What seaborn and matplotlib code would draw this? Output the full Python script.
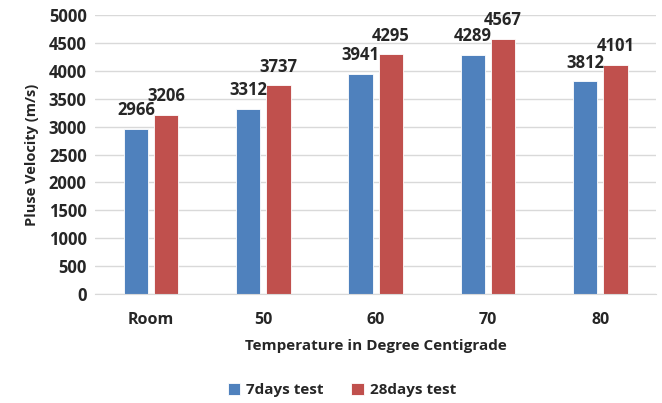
import matplotlib
matplotlib.use("Agg")
import matplotlib.pyplot as plt
import seaborn as sns
import pandas as pd

categories = ["Room", "50", "60", "70", "80"]
series_names = ["7days test", "28days test"]
days7 = [2966, 3312, 3941, 4289, 3812]
days28 = [3206, 3737, 4295, 4567, 4101]
colors = ["#4F81BD", "#C0504D"]

df = pd.DataFrame({
    "Temperature": categories * 2,
    "Velocity": days7 + days28,
    "Series": [series_names[0]] * len(categories) + [series_names[1]] * len(categories),
})

sns.set_style("white")
plt.rcParams["font.family"] = ["Open Sans", "DejaVu Sans"]
plt.rcParams["font.weight"] = "bold"

fig = plt.figure(figsize=(6.62, 4.03), dpi=100)
ax = fig.add_axes([0.1435, 0.27, 0.848, 0.693])

sns.barplot(data=df, x="Temperature", y="Velocity", hue="Series",
            palette=colors, saturation=1, width=0.54, gap=0.2, ax=ax, legend=True,
            edgecolor="white", linewidth=0.6)

# value labels sit a bit higher above the bars, like the Excel original
for cont in ax.containers:
    ax.bar_label(cont, fmt="%d", padding=7, fontsize=12, fontweight="bold")

ax.set_ylim(0, 5000)
ax.set_yticks(range(0, 5001, 500))
ax.yaxis.grid(True, color="#D9D9D9", linewidth=1)
ax.set_axisbelow(True)
for s in ["left", "right", "top"]:
    ax.spines[s].set_visible(False)
ax.spines["bottom"].set_color("#D9D9D9")
ax.tick_params(axis="both", length=0, labelsize=12, pad=6)
ax.tick_params(axis="x", labelsize=11.5, pad=13)
for lab in ax.get_xticklabels() + ax.get_yticklabels():
    lab.set_fontweight("bold")

ax.set_xlabel("Temperature in Degree Centigrade", fontsize=11, fontweight="bold", labelpad=8)
ax.set_ylabel("Pluse Velocity (m/s)", fontsize=10.5, fontweight="bold", labelpad=7)

ax.legend(loc="upper center", bbox_to_anchor=(0.44, -0.27), ncol=2, frameon=False,
          prop={"size": 11, "weight": "bold"}, handlelength=0.8, handleheight=0.8,
          columnspacing=1.8, handletextpad=0.4)

fig.savefig("out.png", dpi=100)
